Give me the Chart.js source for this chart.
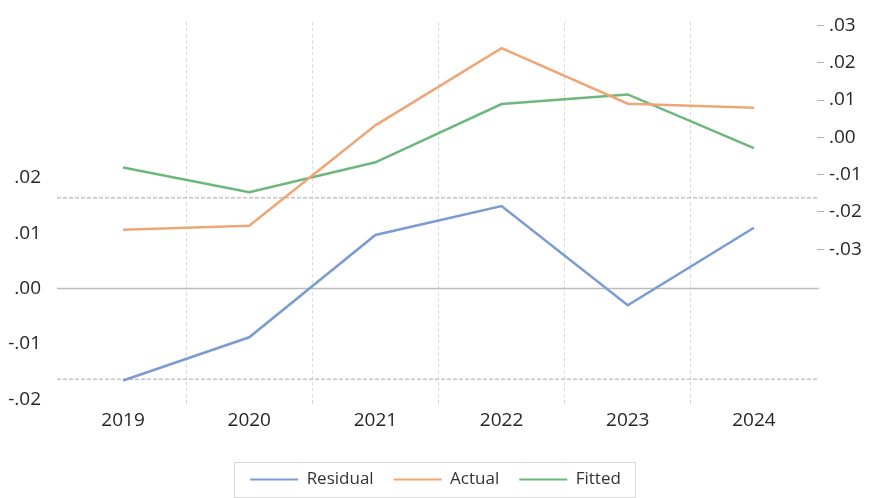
<!DOCTYPE html>
<html>
<head>
<meta charset="utf-8">
<script src="https://cdn.jsdelivr.net/npm/chart.js@4.4.1/dist/chart.umd.min.js"></script>
<style>
  html, body { margin: 0; padding: 0; background: #ffffff; }
  #wrap { width: 871px; height: 498px; position: relative; }
</style>
</head>
<body>
<div id="wrap"><canvas id="c"></canvas></div>
<script>
// ---- data ----
const years = ['2019', '2020', '2021', '2022', '2023', '2024'];
const residual = [-0.0166, -0.0088, 0.0097, 0.0149, -0.0030, 0.0110];
const actual   = [-0.0248, -0.0237, 0.0032, 0.0239, 0.0090, 0.0079];
const fitted   = [-0.0081, -0.0147, -0.0067, 0.0089, 0.0115, -0.0029];
const leftTicks  = [-0.02, -0.01, 0.00, 0.01, 0.02];
const rightTicks = [-0.03, -0.02, -0.01, 0.00, 0.01, 0.02, 0.03];
const residualSD = 0.0164;

const fmt = v => (v < -1e-9 ? '-' : '') + Math.abs(v).toFixed(2).replace(/^0/, '');

const FONT = "'Open Sans', 'DejaVu Sans', sans-serif";

const refLines = {
  id: 'refLines',
  beforeDatasetsDraw(chart) {
    const y = chart.scales.yL;
    const a = chart.chartArea;
    const ctx = chart.ctx;
    ctx.save();
    const draw = (v, dash, color, w) => {
      const py = y.getPixelForValue(v);
      ctx.beginPath();
      ctx.setLineDash(dash);
      ctx.strokeStyle = color;
      ctx.lineWidth = w;
      ctx.moveTo(a.left - 3, py);
      ctx.lineTo(a.right + 2, py);
      ctx.stroke();
    };
    draw(0, [], '#bdbdbd', 1.5);
    draw(residualSD, [4, 2], '#c4c4c4', 1.5);
    draw(-residualSD, [4, 2], '#c4c4c4', 1.5);
    ctx.restore();
  }
};

const legendBox = {
  id: 'legendBox',
  afterDraw(chart) {
    const lg = chart.legend;
    if (!lg || !lg.legendHitBoxes || !lg.legendHitBoxes.length) return;
    const hb = lg.legendHitBoxes;
    let l = Infinity, r = -Infinity, t = Infinity, b = -Infinity;
    hb.forEach(h => { l = Math.min(l, h.left); r = Math.max(r, h.left + h.width); t = Math.min(t, h.top); b = Math.max(b, h.top + h.height); });
    const ctx = chart.ctx;
    ctx.save();
    ctx.strokeStyle = '#d9d9d9';
    ctx.lineWidth = 1;
    ctx.strokeRect(Math.round(l - 16) + 0.5, Math.round(t - 9) + 0.5, Math.round(r - l + 30), Math.round(b - t + 18));
    ctx.restore();
  }
};

new Chart(document.getElementById('c'), {
  type: 'line',
  data: {
    labels: years,
    datasets: [
      { label: 'Residual', data: residual, yAxisID: 'yL', borderColor: '#7b9bd3', backgroundColor: '#7b9bd3', borderWidth: 2.5, pointRadius: 0, tension: 0 },
      { label: 'Actual', data: actual, yAxisID: 'yR', borderColor: '#efa677', backgroundColor: '#efa677', borderWidth: 2.5, pointRadius: 0, tension: 0 },
      { label: 'Fitted', data: fitted, yAxisID: 'yR', borderColor: '#6db77c', backgroundColor: '#6db77c', borderWidth: 2.5, pointRadius: 0, tension: 0 }
    ]
  },
  options: {
    responsive: true,
    maintainAspectRatio: false,
    animation: false,
    layout: { padding: { top: 22, left: 0, right: 0, bottom: 0 } },
    plugins: {
      tooltip: { enabled: false },
      legend: {
        position: 'bottom',
        labels: {
          font: { family: FONT, size: 17 },
          color: '#333333',
          boxWidth: 48,
          boxHeight: 2,
          padding: 20,
          generateLabels(chart) {
            const items = Chart.defaults.plugins.legend.labels.generateLabels(chart);
            items.forEach(it => { it.fillStyle = it.strokeStyle; it.lineWidth = 0; });
            return items;
          }
        }
      }
    },
    scales: {
      x: {
        type: 'category',
        offset: true,
        border: { display: false, dash: [3, 3] },
        grid: {
          offset: true,
          color: c => (c.type !== 'tick' || c.index === 0 || c.index >= years.length) ? 'rgba(0,0,0,0)' : '#d6d6d6',
          lineWidth: 1, drawTicks: true, tickLength: 4
        },
        ticks: { font: { family: FONT, size: 19 }, color: '#262626', padding: 5, maxRotation: 0 },
        afterFit(s) { s.height = 51; }
      },
      yL: {
        position: 'left',
        min: -0.02013,
        max: 0.0481,
        border: { display: false },
        grid: { display: false },
        afterBuildTicks(s) { s.ticks = leftTicks.map(v => ({ value: v })); },
        ticks: { font: { family: FONT, size: 19 }, color: '#262626', padding: 11, callback: v => fmt(v) },
        afterFit(s) { s.width = 60; }
      },
      yR: {
        position: 'right',
        min: -0.07045,
        max: 0.03081,
        border: { display: false },
        grid: { drawOnChartArea: false, drawTicks: true, tickLength: 7, tickColor: '#b0b0b0', tickWidth: 1 },
        afterBuildTicks(s) { s.ticks = rightTicks.map(v => ({ value: v })); },
        ticks: { font: { family: FONT, size: 19 }, color: '#262626', padding: 5, callback: v => fmt(v) },
        afterFit(s) { s.width = 54; }
      }
    }
  },
  plugins: [refLines, legendBox]
});
</script>
</body>
</html>
